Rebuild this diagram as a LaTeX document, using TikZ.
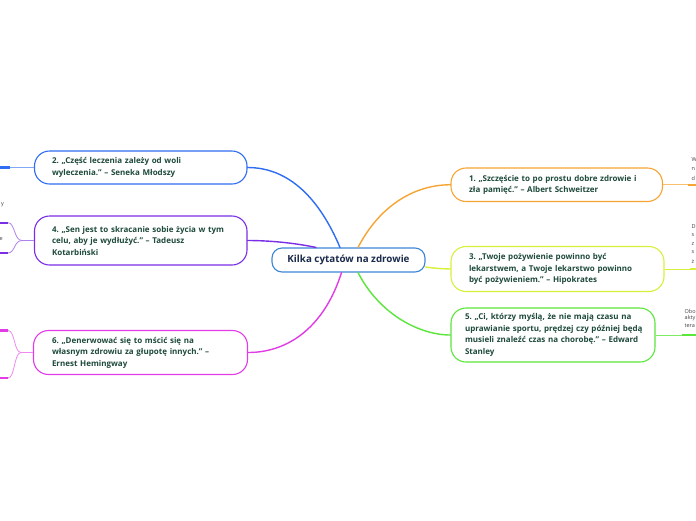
\documentclass[tikz,border=0pt]{standalone}
\usepackage{fontspec}
\setmainfont{Open Sans}
\usetikzlibrary{calc}
\definecolor{txt}{HTML}{1E4A3A}
\definecolor{ctxt}{HTML}{1A2A4A}
\definecolor{cblue}{HTML}{3D86D6}
\definecolor{bblue}{HTML}{2F6DF2}
\definecolor{bpurple}{HTML}{7A2EE6}
\definecolor{bmagenta}{HTML}{E23CE6}
\definecolor{borange}{HTML}{F7A532}
\definecolor{blime}{HTML}{D8F03A}
\definecolor{bgreen}{HTML}{5AE63A}
\definecolor{frag}{HTML}{444444}
\newcommand\lbx[1]{\mbox{#1}}
\tikzset{
  branch/.style={draw, line width=1.1pt, rounded corners=15pt, fill=white, align=left,
    font=\fontsize{8}{11.5}\selectfont\bfseries\frenchspacing, text=txt, inner ysep=0pt},
  central/.style={draw=cblue, line width=1.1pt, rounded corners=10pt, fill=white,
    font=\fontsize{9.8}{11}\selectfont\bfseries, text=ctxt, minimum width=153pt, minimum height=24pt},
  conn/.style={line width=1.4pt, line cap=round},
  thin/.style={line width=0.8pt},
  uline/.style={line width=2.2pt},
  fragtext/.style={font=\fontsize{5.5}{6}\selectfont, text=frag, inner sep=0pt, anchor=west}
}
\begin{document}
\begin{tikzpicture}[x=1pt,y=-1pt]
\useasboundingbox[fill=white] (0,0) rectangle (696,520);

\node[central] (c) at (348.5,260) {Kilka cytatów na zdrowie};

\node[branch, draw=bblue, minimum width=212.5pt, minimum height=33pt, inner xsep=17.5pt, text width=177.5pt] (n2) at (140.75,167.5)
  {\lbx{2. „Część leczenia zależy od woli}\\\lbx{wyleczenia.” – Seneka Młodszy}};
\node[branch, draw=bpurple, minimum width=212.5pt, minimum height=49pt, inner xsep=17.5pt, text width=177.5pt] (n4) at (140.75,240.5)
  {\lbx{4. „Sen jest to skracanie sobie życia w tym}\\\lbx{celu, aby je wydłużyć.” – Tadeusz}\\\lbx{Kotarbiński}};
\node[branch, draw=bmagenta, minimum width=214pt, minimum height=44pt, inner xsep=18.5pt, text width=177pt] (n6) at (140.5,352.5)
  {\lbx{6. „Denerwować się to mścić się na}\\\lbx{własnym zdrowiu za głupotę innych.” –}\\\lbx{Ernest Hemingway}};
\node[branch, draw=borange, minimum width=211.5pt, minimum height=33.5pt, inner xsep=18pt, text width=175.5pt] (n1) at (556.75,184.75)
  {\lbx{1. „Szczęście to po prostu dobre zdrowie i}\\\lbx{zła pamięć.” – Albert Schweitzer}};
\node[branch, draw=blime, minimum width=213pt, minimum height=45pt, inner xsep=18pt, text width=177pt] (n3) at (557.5,269)
  {\lbx{3. „Twoje pożywienie powinno być}\\\lbx{lekarstwem, a Twoje lekarstwo powinno}\\\lbx{być pożywieniem.” – Hipokrates}};
\node[branch, draw=bgreen, minimum width=204pt, minimum height=54pt, inner xsep=14pt, text width=176pt] (n5) at (553,335)
  {\lbx{5. „Ci, którzy myślą, że nie mają czasu na}\\\lbx{uprawianie sportu, prędzej czy później będą}\\\lbx{musieli znaleźć czas na chorobę.” – Edward}\\\lbx{Stanley}};

% main connectors
\draw[conn, bblue] ([xshift=-8.5pt]c.north) .. controls (320,200) and (290,167.5) .. (n2.east);
\draw[conn, bpurple] ([xshift=-32.5pt]c.north) .. controls (295,243) and (270,240.5) .. (n4.east);
\draw[conn, bmagenta] ([xshift=-7pt]c.south) .. controls (325,325) and (290,352.5) .. (n6.east);
\draw[conn, borange] ([xshift=9.5pt]c.north) .. controls (380,205) and (415,184.75) .. (n1.west);
\draw[conn, blime] ([yshift=-7pt]c.east) .. controls (437,268.5) .. (n3.west);
\draw[conn, bgreen] ([xshift=9.5pt]c.south) .. controls (380,315) and (420,335) .. (n5.west);

% right side cropped children
\coordinate (r1) at (688,184.75); \coordinate (r1e) at (697,184.75);
\coordinate (r3) at (690,269); \coordinate (r3e) at (697,269);
\coordinate (r5) at (682,335); \coordinate (r5e) at (697,335);
\draw[thin, borange!70] (n1.east) -- (r1);
\draw[uline, borange] (r1) -- (r1e);
\draw[thin, blime] (n3.east) -- (r3);
\draw[uline, blime] (r3) -- (r3e);
\draw[thin, bgreen!80] (n5.east) -- (r5);
\draw[uline, bgreen] (r5) -- (r5e);
\node[fragtext] (fa1) at (691.5,160) {W};
\node[fragtext] (fa2) at (691.5,169) {n};
\node[fragtext] (fa3) at (691.5,178) {d};
\node[fragtext] (fb1) at (691.5,227) {D};
\node[fragtext] (fb2) at (691.5,235.5) {s};
\node[fragtext] (fb3) at (691.5,244) {z};
\node[fragtext] (fb4) at (691.5,252.5) {s};
\node[fragtext] (fb5) at (691.5,261) {ż};
\node[fragtext] (fc1) at (684.5,311) {Obo};
\node[fragtext] (fc2) at (684.5,318.5) {akty};
\node[fragtext] (fc3) at (684.5,326) {tera};

% left side cropped children
\coordinate (l2) at (10,167.5); \coordinate (l2e) at (-1,167.5);
\draw[thin, bblue!60] (n2.west) -- (l2);
\draw[uline, bblue] (l2) -- (l2e);
\coordinate (l4a) at (8,222.7); \coordinate (l4ae) at (-1,222.7);
\coordinate (l4b) at (8,253); \coordinate (l4be) at (-1,253);
\draw[thin, bpurple!60] (n4.west) -- (22,240.5) .. controls (14,240.5) and (15,222.7) .. (l4a);
\draw[thin, bpurple!60] (22,240.5) .. controls (14,240.5) and (15,253) .. (l4b);
\draw[uline, bpurple] (l4a) -- (l4ae);
\draw[uline, bpurple] (l4b) -- (l4be);
\coordinate (l6a) at (8,330.5); \coordinate (l6ae) at (-1,330.5);
\coordinate (l6b) at (8,378); \coordinate (l6be) at (-1,378);
\draw[thin, bmagenta!60] (n6.west) -- (21,352.5) .. controls (14,352.5) and (15,330.5) .. (l6a);
\draw[thin, bmagenta!60] (21,352.5) .. controls (14,352.5) and (15,378) .. (l6b);
\draw[uline, bmagenta] (l6a) -- (l6ae);
\draw[uline, bmagenta] (l6b) -- (l6be);
\node[fragtext, anchor=east] (fl1) at (4,205) {y};
\node[fragtext, anchor=east] (fl2) at (3,239) {e};
\end{tikzpicture}
\end{document}
